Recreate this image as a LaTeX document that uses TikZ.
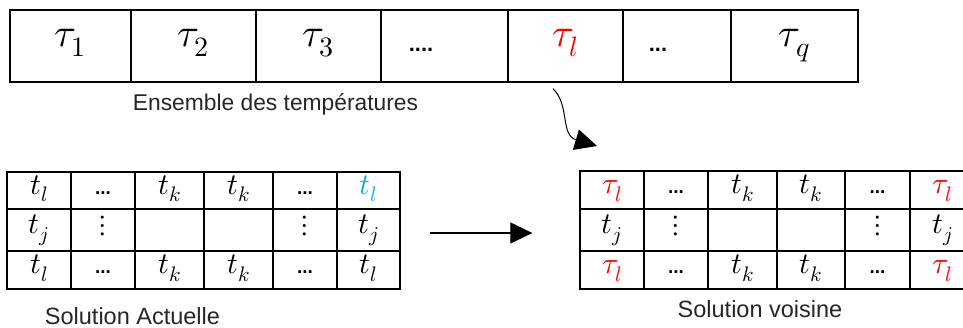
\documentclass[tikz,border=0pt]{standalone}
\usepackage{fontspec}
\usepackage{unicode-math}
\setmainfont{Liberation Sans}
\usetikzlibrary{arrows.meta,calc}
\definecolor{tred}{RGB}{255,0,0}
\definecolor{tblue}{RGB}{0,176,240}
\begin{document}
\begin{tikzpicture}[x=1pt,y=-1pt,
  cell/.style={draw, line width=1.3pt, inner sep=0pt, anchor=center},
  topcell/.style={cell, minimum height=72pt, text height=12pt, text depth=10pt, font=\fontsize{40}{40}\selectfont},
  botcell/.style={cell, text height=13pt, text depth=5pt, font=\fontsize{30}{30}\selectfont},
  dotsstyle/.style={inner sep=0pt, anchor=base, font=\fontsize{22}{22}\selectfont\bfseries},
  bdots/.style={font=\fontsize{19}{19}\selectfont\bfseries},
  lbl/.style={anchor=base, text=black!85, inner sep=0pt},
  arr/.style={line width=1.2pt, -{Triangle[length=22pt,width=21pt]}}]
\useasboundingbox (0,0) rectangle (963,328);
\clip (0,0) rectangle (963,328);
% top table
\node[topcell, minimum width=121pt] (T1) at (70.5,46) {$\tau_1$};
\node[topcell, minimum width=125pt] (T2) at (193.5,46) {$\tau_2$};
\node[topcell, minimum width=125pt] (T3) at (318.5,46) {$\tau_3$};
\node[topcell, minimum width=127pt] (T4) at (444.5,46) {};
\node[topcell, minimum width=115pt, text=tred] (T5) at (565.5,46) {$\tau_l$};
\node[topcell, minimum width=108pt] (T6) at (677,46) {};
\node[topcell, minimum width=127pt] (T7) at (794.5,46) {$\tau_q$};
\node[dotsstyle] (D4) at (421,52) {....};
\node[dotsstyle] (D6) at (658,52) {...};
\node[lbl, font=\fontsize{22.8}{22.8}\selectfont] (L1) at (275.5,111) {Ensemble des températures};
% curved arrow
\coordinate (c1) at ($(T5.south)+(-12.5,6)$);
\coordinate (c2) at (597,146);
\draw[arr, line width=1pt] (c1) .. controls (570,105) and (560,135) .. (c2);
% left table
\foreach \r/\y/\h in {1/190.5/37,2/230/42,3/270/38}{
  \foreach \c/\x/\w in {1/39/64,2/103/64,3/169.5/69,4/238.5/69,5/305/64,6/368.5/63}{
    \node[botcell, minimum width=\w pt, minimum height=\h pt] (A\r\c) at (\x,\y) {};
  }
}
\node[botcell, draw=none] (a11) at (A11) {$t_l$};
\node[botcell, draw=none, bdots] (a12) at (A12) {...};
\node[botcell, draw=none] (a13) at (A13) {$t_k$};
\node[botcell, draw=none] (a14) at (A14) {$t_k$};
\node[botcell, draw=none, bdots] (a15) at (A15) {...};
\node[botcell, draw=none, text=tblue] (a16) at (A16) {$t_l$};
\node[botcell, draw=none] (a21) at (A21) {$t_j$};
\node[botcell, draw=none] (a22) at (A22) {$\vdots$};
\node[botcell, draw=none] (a25) at (A25) {$\vdots$};
\node[botcell, draw=none] (a26) at (A26) {$t_j$};
\node[botcell, draw=none] (a31) at (A31) {$t_l$};
\node[botcell, draw=none, bdots] (a32) at (A32) {...};
\node[botcell, draw=none] (a33) at (A33) {$t_k$};
\node[botcell, draw=none] (a34) at (A34) {$t_k$};
\node[botcell, draw=none, bdots] (a35) at (A35) {...};
\node[botcell, draw=none] (a36) at (A36) {$t_l$};
\node[lbl, font=\fontsize{23.5}{23.5}\selectfont] (L2) at (132.5,324) {Solution Actuelle};
% right table
\foreach \r/\y/\h in {1/190/38,2/230/42,3/270/38}{
  \foreach \c/\x/\w in {1/612/64,2/676/64,3/742.5/69,4/811/68,5/877.5/65,6/942.5/65}{
    \node[botcell, minimum width=\w pt, minimum height=\h pt] (B\r\c) at (\x,\y) {};
  }
}
\node[botcell, draw=none, text=tred] (b11) at (B11) {$\tau_l$};
\node[botcell, draw=none, bdots] (b12) at (B12) {...};
\node[botcell, draw=none] (b13) at (B13) {$t_k$};
\node[botcell, draw=none] (b14) at (B14) {$t_k$};
\node[botcell, draw=none, bdots] (b15) at (B15) {...};
\node[botcell, draw=none, text=tred] (b16) at (B16) {$\tau_l$};
\node[botcell, draw=none] (b21) at (B21) {$t_j$};
\node[botcell, draw=none] (b22) at (B22) {$\vdots$};
\node[botcell, draw=none] (b25) at (B25) {$\vdots$};
\node[botcell, draw=none] (b26) at (B26) {$t_j$};
\node[botcell, draw=none, text=tred] (b31) at (B31) {$\tau_l$};
\node[botcell, draw=none, bdots] (b32) at (B32) {...};
\node[botcell, draw=none] (b33) at (B33) {$t_k$};
\node[botcell, draw=none] (b34) at (B34) {$t_k$};
\node[botcell, draw=none, bdots] (b35) at (B35) {...};
\node[botcell, draw=none, text=tred] (b36) at (B36) {$\tau_l$};
\node[lbl, font=\fontsize{23.5}{23.5}\selectfont] (L3) at (760,317) {Solution voisine};
% middle arrow
\coordinate (m1) at ($(A26.east)+(29,3)$);
\coordinate (m2) at ($(B21.west)+(-47,3)$);
\draw[arr] (m1) -- (m2);
\end{tikzpicture}
\end{document}
